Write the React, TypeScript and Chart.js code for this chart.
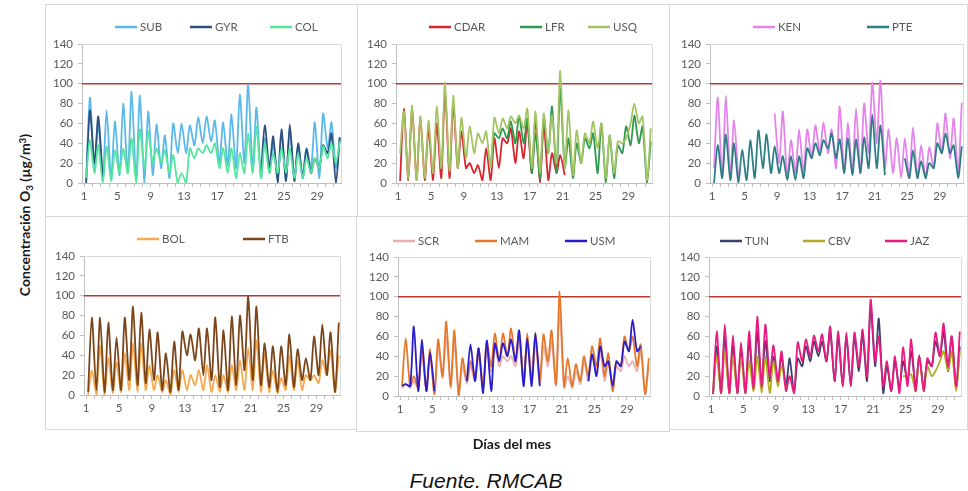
import React, { useEffect, useRef } from 'react';
import { Chart, registerables } from 'chart.js';
Chart.register(...registerables);

// ---------- axis / category data ----------
const DAYS = [1, 2, 3, 4, 5, 6, 7, 8, 9, 10, 11, 12, 13, 14, 15, 16, 17, 18, 19, 20, 21, 22, 23, 24, 25, 26, 27, 28, 29, 30, 31];
const X_LABELS = [1, 5, 9, 13, 17, 21, 25, 29];
const LIMIT = 100;
const LOW_AT = 0.25; // hour-of-day fraction of the daily minimum
const PEAK_AT = 0.7; // hour-of-day fraction of the daily maximum

// ---------- panel 1 ----------
const SUB_PEAK = [86, 60, 73, 62, 80, 92, 88, 72, 59, 48, 60, 60, 58, 66, 67, 63, 61, 69, 89, 99, 76, 45, 40, 50, 55, 38, 35, 61, 70, 61, 46];
const SUB_LOW = [2, 15, 5, 5, 8, 10, 5, 0, 8, 15, 5, 30, 30, 38, 40, 42, 20, 18, 15, 20, 15, 5, 10, 5, 3, 5, 8, 15, 5, 35, 15];
const GYR_PEAK = [73, 67, null, null, null, null, null, null, null, null, null, null, null, null, null, null, null, null, null, null, null, 58, 47, 54, 59, 40, 34, 25, 38, 50, 46];
const GYR_LOW = [0, 20, 3, null, null, null, null, null, null, null, null, null, null, null, null, null, null, null, null, null, null, 10, 15, 0, 2, 2, 5, 10, 15, 30, 0];
const COL_PEAK = [43, 38, 37, 33, 35, 45, 54, 52, 35, 33, 28, 10, 35, 35, 38, 40, 35, 35, 30, 50, 57, 40, 30, 35, 35, 30, 25, 25, 37, 40, 42];
const COL_LOW = [5, 10, 0, 2, 10, 10, 0, 15, 20, 20, 10, 0, 0, 25, 30, 30, 15, 10, 5, 10, 10, 5, 10, 10, 10, 5, 5, 10, 15, 25, 20];

// ---------- panel 2 ----------
const CDAR_PEAK = [75, 78, 67, 55, 60, 95, 80, 52, 20, 18, 35, 45, 45, 55, 52, 60, 65, 60, 30, 28, null, null, null, null, null, null, null, null, null, null, null];
const CDAR_LOW = [2, 3, 3, 3, 3, 5, 5, 15, 15, 10, 3, 3, 15, 40, 20, 25, 10, 0, 3, 10, 8, null, null, null, null, null, null, null, null, null, null];
const LFR_PEAK = [null, null, null, null, null, null, null, null, null, null, null, 50, 55, 62, 68, 65, 50, 65, 77, 95, 45, 40, 45, 50, 60, 48, 38, 57, 68, 57, 42];
const LFR_LOW = [null, null, null, null, null, null, null, null, null, null, null, 15, 45, 45, 40, 40, 10, 5, 30, 10, 15, 5, 20, 35, 10, 0, 5, 30, 38, 40, 0];
const USQ_PEAK = [72, 78, 67, 63, 77, 101, 88, 66, 57, 50, 52, 66, 65, 67, 68, 75, 72, 70, 68, 113, 73, 53, 50, 62, 60, 48, 42, 45, 80, 67, 55];
const USQ_LOW = [30, 5, 3, 5, 10, 15, 12, 15, 25, 30, 40, 15, 50, 55, 60, 55, 15, 10, 30, 20, 15, 8, 20, 40, 35, 5, 10, 40, 60, 60, 3];

// ---------- panel 3 ----------
const KEN_PEAK = [86, 88, 63, null, null, null, null, 70, 72, 43, 54, 54, 58, 61, 54, 77, 61, 75, 80, 101, 103, 54, 45, 45, 56, 38, 36, 60, 70, 65, 81];
const KEN_LOW = [15, 5, 5, 3, null, null, null, null, 20, 5, 10, 10, 25, 30, 30, 15, 10, 10, 10, 30, 40, 15, 10, 5, 5, 5, 5, 15, 30, 25, 10];
const PTE_PEAK = [38, 49, 40, 33, 43, 53, 49, 37, 27, 27, 27, 35, 40, 43, 50, 44, 45, 44, 46, 69, 58, null, null, 25, 33, 22, 20, 40, 50, 38, 37];
const PTE_LOW = [0, 5, 3, 0, 3, 5, 15, 10, 10, 3, 3, 5, 25, 28, 35, 25, 10, 8, 10, 15, 15, 8, null, null, 5, 5, 5, 15, 30, 30, 5];

// ---------- panel 4 ----------
const BOL_PEAK = [25, 50, 37, 33, 42, 52, 52, 30, 20, 15, 25, 25, 20, 25, 30, 20, 20, 30, 35, 47, 55, 42, 25, 17, 40, 35, 20, 20, 35, 45, 40];
const BOL_LOW = [0, 0, 0, 2, 3, 5, 3, 5, 5, 3, 0, 3, 5, 10, 5, 3, 3, 3, 5, 5, 5, 3, 3, 2, 5, 5, 5, 15, 12, 20, 3];
const FTB_PEAK = [78, 78, 73, 58, 78, 89, 83, 66, 63, 42, 54, 64, 61, 67, 67, 78, 65, 79, 80, 99, 89, 52, 49, 49, 61, 46, 37, 59, 71, 63, 73];
const FTB_LOW = [3, 5, 3, 5, 5, 15, 10, 12, 15, 5, 3, 5, 40, 35, 20, 15, 8, 5, 10, 25, 15, 10, 8, 3, 10, 8, 15, 15, 20, 20, 3];

// ---------- panel 5 ----------
const SCR_PEAK = [12, 15, 45, 40, 50, 60, 55, 30, 30, 40, 45, 50, 40, 40, 55, 55, 55, 50, 55, 85, 20, 25, 35, 40, 45, 35, 30, 40, 35, 45, 30];
const SCR_LOW = [8, 8, 8, 5, 2, 18, 8, 0, 12, 15, 8, 25, 30, 35, 30, 12, 12, 12, 30, 10, 8, 8, 12, 15, 25, 15, 5, 25, 30, 25, 2];
const MAM_PEAK = [58, 20, 48, 47, 57, 75, 66, 38, 35, 48, 55, 63, 63, 68, 65, 63, 64, 62, 66, 105, 38, 32, 40, 50, 58, 43, 35, 60, 60, 52, 38];
const MAM_LOW = [10, 10, 8, 5, 2, 20, 10, 0, 15, 20, 10, 30, 35, 40, 35, 15, 15, 15, 35, 12, 10, 10, 15, 20, 30, 20, 5, 30, 45, 30, 2];
const USM_PEAK = [12, 70, 57, 44, null, null, null, null, 52, 48, 56, 53, 53, 57, 66, 58, 63, null, null, null, null, null, null, 42, 50, 35, 35, 55, 77, 50, null];
const USM_LOW = [10, 10, 5, 5, 5, null, null, null, 15, 15, 3, 5, 35, 40, 35, 10, 10, 10, null, null, null, null, null, 15, 20, 30, 10, 30, 45, 45, null];

// ---------- panel 6 ----------
const TUN_PEAK = [50, 60, 52, 45, 55, 65, 55, 40, 40, 38, 38, 50, 55, 55, 65, 60, 60, 60, 62, 90, 78, 30, 35, 35, 45, 40, 35, 55, 65, 60, 50];
const TUN_LOW = [2, 3, 3, 3, 3, 8, 10, 15, 15, 10, 3, 30, 35, 40, 35, 15, 10, 10, 25, 15, 30, 3, 5, 8, 15, 10, 8, 30, 40, 25, 8];
const CBV_PEAK = [40, 45, 40, 40, 35, 40, 40, 35, 30, null, null, null, null, null, null, null, null, null, null, null, null, null, null, 20, 22, 40, 30, 25, 45, 45, 45];
const CBV_LOW = [3, 3, 3, 3, 3, 5, 3, 3, 10, 8, null, null, null, null, null, null, null, null, null, null, null, null, null, null, 20, 5, 5, 20, 35, 25, 5];
const JAZ_PEAK = [65, 72, 61, 54, 65, 80, 72, 51, 45, 20, 54, 57, 61, 62, 70, 65, 64, 64, 67, 97, 60, 35, 40, 49, 57, 41, 38, 64, 73, 60, 65];
const JAZ_LOW = [2, 3, 3, 3, 3, 8, 10, 20, 15, 5, 3, 35, 40, 45, 35, 15, 10, 10, 30, 20, 35, 10, 5, 3, 10, 5, 5, 30, 40, 30, 10];

type Series = { label: string; color: string; low: (number | null)[]; peak: (number | null)[] };
type PanelCfg = {
  left: number; top: number; w: number; h: number;
  pad: { l: number; r: number; t: number; b: number };
  legendX: number[]; legendY: number;
  series: Series[];
};

const PANELS: PanelCfg[] = [
  {
    left: 45, top: 4, w: 313, h: 213, pad: { l: 36, r: 16, t: 39, b: 33 }, legendX: [69, 144, 224], legendY: 22,
    series: [
      { label: 'SUB', color: '#5ab9ea', low: SUB_LOW, peak: SUB_PEAK },
      { label: 'GYR', color: '#2f4f7f', low: GYR_LOW, peak: GYR_PEAK },
      { label: 'COL', color: '#55e69e', low: COL_LOW, peak: COL_PEAK },
    ],
  },
  {
    left: 357, top: 4, w: 313, h: 213, pad: { l: 38, r: 17, t: 39, b: 33 }, legendX: [71, 162, 230], legendY: 22,
    series: [
      { label: 'CDAR', color: '#d9262e', low: CDAR_LOW, peak: CDAR_PEAK },
      { label: 'LFR', color: '#2e9a4e', low: LFR_LOW, peak: LFR_PEAK },
      { label: 'USQ', color: '#a4c463', low: USQ_LOW, peak: USQ_PEAK },
    ],
  },
  {
    left: 669, top: 4, w: 299, h: 213, pad: { l: 40, r: 4, t: 39, b: 33 }, legendX: [83, 197], legendY: 22,
    series: [
      { label: 'KEN', color: '#e483ec', low: KEN_LOW, peak: KEN_PEAK },
      { label: 'PTE', color: '#2d7f84', low: PTE_LOW, peak: PTE_PEAK },
    ],
  },
  {
    left: 45, top: 216, w: 313, h: 214, pad: { l: 38, r: 17, t: 39, b: 34 }, legendX: [91, 197], legendY: 22,
    series: [
      { label: 'BOL', color: '#f6a94e', low: BOL_LOW, peak: BOL_PEAK },
      { label: 'FTB', color: '#7b4519', low: FTB_LOW, peak: FTB_PEAK },
    ],
  },
  {
    left: 356, top: 216, w: 314, h: 216, pad: { l: 41, r: 19, t: 40, b: 35 }, legendX: [36, 118, 208], legendY: 24,
    series: [
      { label: 'SCR', color: '#eab0b0', low: SCR_LOW, peak: SCR_PEAK },
      { label: 'MAM', color: '#e6782a', low: MAM_LOW, peak: MAM_PEAK },
      { label: 'USM', color: '#2a1dcc', low: USM_LOW, peak: USM_PEAK },
    ],
  },
  {
    left: 669, top: 216, w: 299, h: 214, pad: { l: 39, r: 6, t: 40, b: 33 }, legendX: [50, 133, 215], legendY: 24,
    series: [
      { label: 'TUN', color: '#40406e', low: TUN_LOW, peak: TUN_PEAK },
      { label: 'CBV', color: '#b2aa25', low: CBV_LOW, peak: CBV_PEAK },
      { label: 'JAZ', color: '#e8197f', low: JAZ_LOW, peak: JAZ_PEAK },
    ],
  },
];

const FONT = 'Lato, "Liberation Sans", sans-serif';
const TEXT = '#595959';
const AXIS = '#bfbfbf';

function toPoints(low: (number | null)[], peak: (number | null)[]) {
  const pts: { x: number; y: number | null }[] = [];
  DAYS.forEach((d, i) => {
    pts.push({ x: d + LOW_AT, y: low[i] });
    pts.push({ x: d + PEAK_AT, y: peak[i] });
  });
  return pts;
}

function Panel({ cfg }: { cfg: PanelCfg }) {
  const ref = useRef<HTMLCanvasElement>(null);
  const cw = cfg.w - 2;
  const ch = cfg.h - 2;
  useEffect(() => {
    const n = cfg.series.length;
    const datasets: any[] = [
      {
        label: '__limit',
        data: [{ x: 0.75, y: LIMIT }, { x: 31.85, y: LIMIT }],
        borderColor: '#b83a33',
        backgroundColor: '#b83a33',
        borderWidth: 1.5,
        pointRadius: 0,
        order: 100,
      },
      ...cfg.series.map((s, i) => ({
        label: s.label,
        data: toPoints(s.low, s.peak),
        borderColor: s.color,
        backgroundColor: s.color,
        borderWidth: 1.8,
        pointRadius: 0,
        tension: 0.25,
        spanGaps: false,
        order: 10 + n - i,
      })),
    ];
    const frame = {
      id: 'frame',
      beforeDatasetsDraw(chart: any) {
        const { ctx, chartArea } = chart;
        const { left, top, right, bottom } = chartArea;
        ctx.save();
        ctx.strokeStyle = '#d9d9d9';
        ctx.lineWidth = 1;
        ctx.beginPath();
        ctx.moveTo(left, Math.round(top) + 0.5);
        ctx.lineTo(Math.round(right) + 0.5, Math.round(top) + 0.5);
        ctx.lineTo(Math.round(right) + 0.5, bottom);
        ctx.stroke();
        ctx.restore();
      },
    };
    const legend = {
      id: 'panelLegend',
      afterDraw(chart: any) {
        const ctx = chart.ctx;
        ctx.save();
        ctx.font = `11.5px ${FONT}`;
        ctx.textBaseline = 'middle';
        ctx.textAlign = 'left';
        cfg.series.forEach((s, i) => {
          const x = cfg.legendX[i];
          const y = cfg.legendY;
          ctx.strokeStyle = s.color;
          ctx.lineWidth = 2.5;
          ctx.beginPath();
          ctx.moveTo(x, y);
          ctx.lineTo(x + 22, y);
          ctx.stroke();
          ctx.fillStyle = TEXT;
          ctx.fillText(s.label, x + 25, y + 0.5);
        });
        ctx.restore();
      },
    };
    const chart = new Chart(ref.current as HTMLCanvasElement, {
      type: 'line',
      data: { datasets },
      options: {
        responsive: false,
        animation: false,
        devicePixelRatio: 1,
        layout: { padding: { left: 0, right: cfg.pad.r, top: cfg.pad.t, bottom: 0 } },
        plugins: { legend: { display: false }, tooltip: { enabled: false } },
        scales: {
          x: {
            type: 'linear',
            min: 0.75,
            max: 31.85,
            afterFit: (s: any) => { s.height = cfg.pad.b; },
            border: { color: AXIS, width: 1 },
            grid: { drawOnChartArea: false, drawTicks: true, tickLength: 4, color: AXIS },
            ticks: {
              stepSize: 1,
              autoSkip: false,
              maxRotation: 0,
              includeBounds: false,
              padding: 2,
              color: TEXT,
              font: { family: FONT, size: 11.5 },
              callback: (v: any) => (X_LABELS.includes(Number(v)) ? String(v) : ''),
            },
          },
          y: {
            min: 0,
            max: 140,
            afterFit: (s: any) => { s.width = cfg.pad.l; },
            border: { color: AXIS, width: 1 },
            grid: { drawOnChartArea: false, drawTicks: true, tickLength: 4, color: AXIS },
            ticks: {
              stepSize: 20,
              padding: 5,
              color: TEXT,
              font: { family: FONT, size: 11.5 },
            },
          },
        },
      },
      plugins: [frame, legend],
    } as any);
    return () => chart.destroy();
  }, []);
  return (
    <div
      style={{
        position: 'absolute',
        left: cfg.left,
        top: cfg.top,
        width: cfg.w,
        height: cfg.h,
        border: '1px solid #d9d9d9',
        boxSizing: 'border-box',
        background: '#fff',
      }}
    >
      <canvas ref={ref} width={cw} height={ch} style={{ display: 'block', width: cw, height: ch }} />
    </div>
  );
}

export default function App() {
  return (
    <div style={{ position: 'absolute', left: 0, top: 0, width: 968, height: 491, background: '#fff', overflow: 'hidden' }}>
      {PANELS.map((p, i) => (
        <Panel key={i} cfg={p} />
      ))}
      <div
        style={{
          position: 'absolute',
          left: 22 - 140,
          top: 215 - 11,
          width: 280,
          height: 22,
          lineHeight: '22px',
          textAlign: 'center',
          transform: 'rotate(-90deg)',
          fontFamily: FONT,
          fontWeight: 700,
          fontSize: 14,
          color: '#1a1a1a',
          whiteSpace: 'nowrap',
        }}
      >
        Concentración O<sub style={{ fontSize: '0.7em', verticalAlign: '-0.25em' }}>3</sub> (µg/m<sup style={{ fontSize: '0.7em', verticalAlign: '0.45em' }}>3</sup>)
      </div>
      <div
        style={{
          position: 'absolute',
          left: 412,
          top: 434,
          width: 200,
          lineHeight: '20px',
          textAlign: 'center',
          fontFamily: FONT,
          fontWeight: 700,
          fontSize: 14,
          color: '#1a1a1a',
        }}
      >
        Días del mes
      </div>
      <div
        style={{
          position: 'absolute',
          left: 336,
          top: 470,
          width: 300,
          lineHeight: '22px',
          textAlign: 'center',
          fontFamily: '"Liberation Sans", Arial, sans-serif',
          fontStyle: 'italic',
          fontSize: 21,
          color: '#111',
        }}
      >
        Fuente. RMCAB
      </div>
    </div>
  );
}
